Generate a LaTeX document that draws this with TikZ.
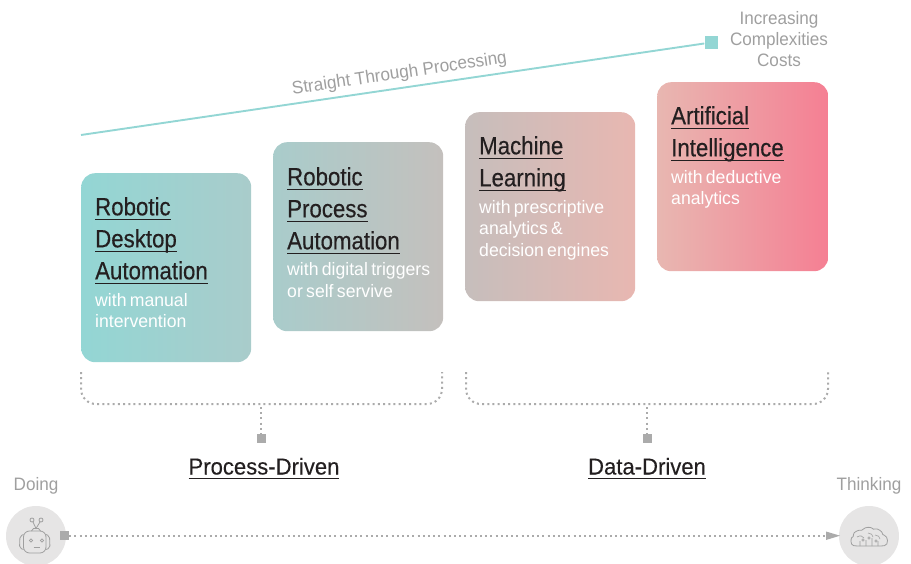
\documentclass[tikz,border=0pt]{standalone}
\usepackage{fontspec}
\setmainfont{Liberation Sans}[FakeStretch=0.95]
\newfontfamily\headfont{Liberation Sans}[FakeStretch=0.89,FakeBold=0.35]
\newfontfamily\groupfont{Liberation Sans}[FakeStretch=0.96,FakeBold=0.3]
\newfontfamily\subfont{Liberation Sans}[FakeStretch=0.98]
\definecolor{teal1}{HTML}{93D6D4}
\definecolor{teal2}{HTML}{A9CCCB}
\definecolor{mid1}{HTML}{C4C0BD}
\definecolor{mid2}{HTML}{C6BEBC}
\definecolor{rose1}{HTML}{E8B7B1}
\definecolor{rose2}{HTML}{F8ADAA}
\definecolor{rose3}{HTML}{F57F93}
\definecolor{greytxt}{HTML}{9F9F9F}
\definecolor{dotgrey}{HTML}{ABABAB}
\definecolor{disc}{HTML}{E6E5E5}
\definecolor{ink}{HTML}{231F20}
\newsavebox\ulbox
\newcommand\ulx[1]{\leavevmode\sbox\ulbox{#1}\rlap{\rule[-4.5pt]{\wd\ulbox}{1pt}}\usebox\ulbox}
\newcommand\head[1]{{\headfont\fontsize{25}{32}\selectfont\color{ink}\ulx{#1}\par}}
\newcommand\subt[1]{{\subfont\fontsize{18}{21.5}\selectfont\color{white}#1\par}}
\tikzset{
 x=1pt,y=-1pt,
 cardbox/.style={rounded corners=14pt,minimum width=170pt,minimum height=189pt,inner sep=0pt,anchor=north west},
 cardtext/.style={anchor=north west,inner sep=0pt,text width=155pt,align=left},
 dotline/.style={dotgrey,line width=2pt,dash pattern=on 2pt off 3.2pt},
 sq/.style={fill=dotgrey,inner sep=0pt,minimum size=9pt},
 disccirc/.style={circle,fill=disc,inner sep=0pt,minimum size=60pt},
 grey/.style={greytxt,font=\fontsize{18}{21}\selectfont,align=center,inner sep=0pt},
 group/.style={font=\groupfont\fontsize{23}{28}\selectfont,text=ink,inner sep=0pt,anchor=base},
 icon/.style={draw=greytxt,line width=.8pt,fill=none},
}
\begin{document}
\begin{tikzpicture}
\useasboundingbox (0,0) rectangle (911,564);
% cards
\node[cardbox,left color=teal1,right color=teal2] (c1) at (81,173) {};
\node[cardbox,left color=teal2,right color=mid1] (c2) at (273,142) {};
\node[cardbox,left color=mid2,right color=rose1] (c3) at (465,112) {};
\node[cardbox,left color=rose1,middle color=rose2,right color=rose3,minimum width=171pt] (c4) at (657,82) {};
\node[cardtext] (t1) at (95,197) {\head{Robotic}\head{Desktop}\head{Automation}\vspace{5.5pt}\subt{with manual}\subt{intervention}};
\node[cardtext] (t2) at (287,167) {\head{Robotic}\head{Process}\head{Automation}\vspace{5pt}\subt{with digital triggers}\subt{or self servive}};
\node[cardtext] (t3) at (479,136) {\head{Machine}\head{Learning}\vspace{5.5pt}\subt{with prescriptive}\subt{analytics \&}\subt{decision engines}};
\node[cardtext] (t4) at (671,106) {\head{Artificial}\head{Intelligence}\vspace{5.5pt}\subt{with deductive}\subt{analytics}};
% rising line
\coordinate (ls) at (81,135);
\node[fill=teal1,inner sep=0pt,minimum size=13pt] (le) at (711,42.5) {};
\draw[teal1,line width=1.9pt] (ls) -- (le);
\node[grey,rotate=8.4] (stp) at (399.5,74) {Straight Through Processing};
\node[grey] (inc) at (779,39) {Increasing\\Complexities\\Costs};
% braces
\coordinate (b1a) at (81,372); \coordinate (b1b) at (442,372);
\coordinate (b2a) at (466,372); \coordinate (b2b) at (828,372);
\draw[dotline,rounded corners=15pt] (b1a) -- (81,404) -- (442,404) -- (b1b);
\draw[dotline,rounded corners=15pt] (b2a) -- (466,404) -- (828,404) -- (b2b);
\coordinate (s1) at (261,407); \coordinate (s2) at (647,407);
\node[sq] (q1) at (261,438) {};
\node[sq] (q2) at (647,438) {};
\draw[dotline] (s1) -- (q1);
\draw[dotline] (s2) -- (q2);
\node[group] (pd) at (264,474.5) {\ulx{Process-Driven}};
\node[group] (dd) at (647,474.5) {\ulx{Data-Driven}};
% bottom axis
\node[disccirc] (doing) at (36,536) {};
\node[disccirc] (think) at (869,536) {};
\node[grey] (dl) at (36,486) {Doing};
\node[grey] (tl) at (869,486) {Thinking};
\node[sq] (q3) at (64.5,535.5) {};
\draw[dotline] (q3) -- (828,535.5);
\draw[fill=dotgrey,draw=none] (840,535.7) -- (826,531.5) -- (826,540) -- cycle;
% robot
\draw[icon,rounded corners=6pt] (23.5,531) rectangle (46,553);
\draw[icon,rounded corners=2pt] (23.5,534.5) -- (20,536) -- (19.5,548) -- (23.5,549.5);
\draw[icon,rounded corners=2pt] (46,534.5) -- (49.5,536) -- (50,548) -- (46,549.5);
\draw[icon] (32,520) circle (2pt) (41,520) circle (2pt);
\draw[icon] (33,522) -- (36,528.5) -- (40,522);
\draw[icon] (31.5,531) -- (33.5,528.5) -- (38.5,528.5) -- (40.5,531);
\draw[icon] (31,540.5) circle (1.6pt) (42,540.5) circle (1.6pt);
\draw[icon] (33.5,547) -- (39.5,547);
% brain
\draw[icon,rounded corners=2.5pt] (856,546) .. controls (850,545) and (851,538) .. (854,537)
 .. controls (853,532) and (859,530) .. (862,531)
 .. controls (865,527) and (871,527) .. (873,530)
 .. controls (878,528) and (882,532) .. (882,535)
 .. controls (888,536) and (889,545) .. (882,546) -- cycle;
\draw[icon,line width=.6pt] (860,546) -- (860,541) (866,546) -- (866,540) (872,546) -- (872,538) (878,546) -- (878,541)
 (857,537) .. controls (860,535) and (863,536) .. (864,538)
 (868,533) .. controls (871,533) and (873,535) .. (873,537)
 (875,535) .. controls (878,535) and (880,537) .. (880,539);
\draw[icon,line width=.6pt] (863,540) circle (1.2pt) (869,538) circle (1.2pt) (876,541) circle (1.2pt);
\end{tikzpicture}
\end{document}
